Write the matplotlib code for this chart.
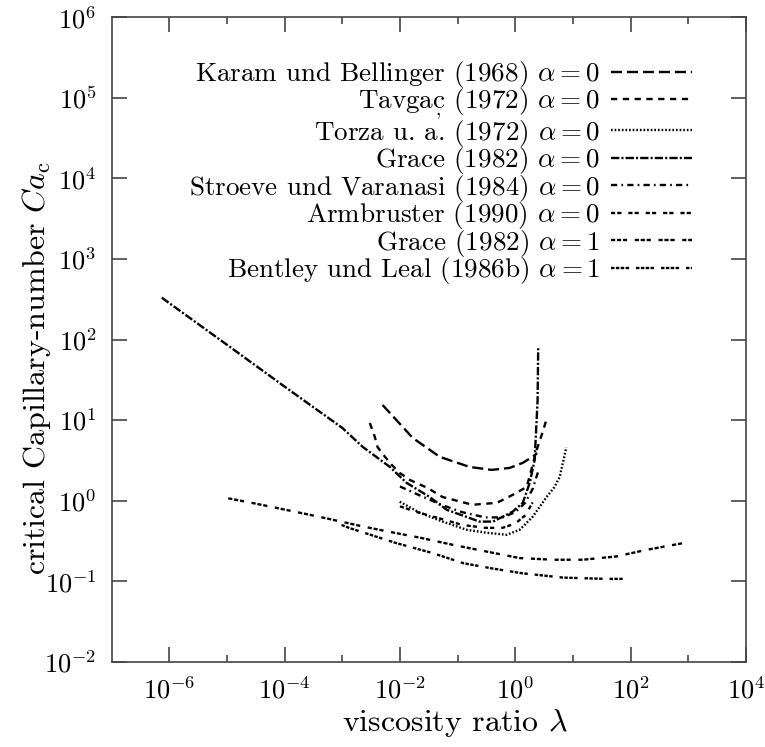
import math
import matplotlib
matplotlib.use("Agg")
import matplotlib.pyplot as plt
from matplotlib.ticker import FixedLocator, FuncFormatter, NullFormatter

plt.rcParams['font.family'] = ['cmr10', 'DejaVu Serif']
plt.rcParams['mathtext.fontset'] = 'cm'
plt.rcParams['axes.unicode_minus'] = False
plt.rcParams['lines.scale_dashes'] = False

# --- data (lambda, Ca_c) ---
karam_lam = [5.0e-3, 0.0167, 0.049, 0.162, 0.39, 0.8, 1.34, 2.0, 2.4]
karam_ca = [15.4, 6.0, 3.5, 2.62, 2.41, 2.55, 2.94, 3.5, 3.9]

tavgac_lam = [3.0e-3, 3.66e-3, 4.1e-3, 5.5e-3, 7.2e-3, 9.9e-3, 0.0148, 0.030, 0.055,
              0.18, 0.48, 0.90, 1.58, 2.35, 2.95, 3.6]
tavgac_ca = [9.2, 6.2, 4.6, 3.5, 2.78, 2.21, 1.81, 1.44, 1.11,
             0.89, 0.94, 1.18, 1.48, 4.27, 6.9, 11.0]

torza_lam = [9.9e-3, 0.022, 0.055, 0.144, 0.32, 0.71, 1.19, 2.0, 3.5, 4.8, 5.9, 7.7]
torza_ca = [0.97, 0.71, 0.55, 0.435, 0.40, 0.377, 0.435, 0.63, 1.11, 1.48, 1.97, 4.6]

grace0_lam = [7.4e-7, 1e-5, 1e-4, 1e-3, 2.26e-3, 6.65e-3, 0.0131, 0.0328, 0.065,
              0.24, 0.41, 0.90, 1.35, 1.78, 2.17, 2.44, 2.5]
grace0_ca = [330, 86, 26, 8.0, 4.65, 2.63, 1.66, 1.11, 0.77,
             0.55, 0.55, 0.73, 0.94, 1.66, 3.2, 17.8, 79]

stroeve_lam = [0.01, 0.02, 0.05, 0.12, 0.3, 0.6, 1.0, 1.5, 2.0, 2.5]
stroeve_ca = [1.5, 1.2, 0.9, 0.72, 0.62, 0.62, 0.72, 0.95, 1.4, 2.3]

armb_lam = [0.01, 0.02, 0.05, 0.12, 0.3, 0.6, 1.0, 1.5, 2.0]
armb_ca = [0.85, 0.72, 0.6, 0.5, 0.46, 0.46, 0.52, 0.66, 0.95]

grace1_lam = [1.05e-5, 3.5e-5, 1.3e-4, 4.6e-4, 2.3e-3, 6.2e-3, 0.022, 0.083, 0.315,
              1.19, 4.5, 14.9, 56, 187, 805]
grace1_ca = [1.07, 0.905, 0.746, 0.617, 0.478, 0.414, 0.348, 0.283, 0.234,
             0.194, 0.185, 0.185, 0.203, 0.245, 0.297]

bentley_lam = [9.7e-4, 1.35e-3, 8.7e-3, 0.0375, 0.124, 0.36, 1.28, 6.7, 38, 74]
bentley_ca = [0.50, 0.456, 0.297, 0.223, 0.168, 0.146, 0.126, 0.111, 0.107, 0.107]

series = [
    (karam_lam, karam_ca, r"Karam und Bellinger (1968) $\alpha = 0$", (8, 3.5)),
    (tavgac_lam, tavgac_ca, r"Tavga$\underset{,}{\mathrm{c}}$ (1972) $\alpha = 0$", (4.5, 4)),
    (torza_lam, torza_ca, r"Torza u. a. (1972) $\alpha = 0$", (1.2, 1.4)),
    (grace0_lam, grace0_ca, r"Grace (1982) $\alpha = 0$", (6, 1.5, 1.5, 1.5)),
    (stroeve_lam, stroeve_ca, r"Stroeve und Varanasi (1984) $\alpha = 0$", (4.5, 3, 1.2, 3)),
    (armb_lam, armb_ca, r"Armbruster (1990) $\alpha = 0$", (3, 1.5, 3, 5)),
    (grace1_lam, grace1_ca, r"Grace (1982) $\alpha = 1$", (3, 1.3, 3, 1.3, 3, 5.5)),
    (bentley_lam, bentley_ca, r"Bentley und Leal (1986b) $\alpha = 1$", (2.5, 1, 2.5, 1, 2.5, 1, 2.5, 5)),
]

fig = plt.figure(figsize=(7.65, 7.47), dpi=100)
ax = fig.add_axes([0.146, 0.114, 0.829, 0.863])

for lam, ca, lab, dash in series:
    ax.plot(lam, ca, color='black', lw=1.7, dashes=dash, label=lab)

ax.set_xscale('log')
ax.set_yscale('log')
ax.set_xlim(1e-7, 1e4)
ax.set_ylim(1e-2, 1e6)

ax.xaxis.set_major_locator(FixedLocator([1e-6, 1e-4, 1e-2, 1e0, 1e2, 1e4]))
ax.xaxis.set_minor_locator(FixedLocator([1e-5, 1e-3, 1e-1, 1e1, 1e3]))
ax.xaxis.set_minor_formatter(NullFormatter())
ax.yaxis.set_major_locator(FixedLocator([10.0 ** k for k in range(-2, 7)]))
ax.yaxis.set_minor_locator(FixedLocator([]))

fmt = FuncFormatter(lambda v, p: r"$10^{%d}$" % round(math.log10(v)))
ax.xaxis.set_major_formatter(fmt)
ax.yaxis.set_major_formatter(fmt)

ax.tick_params(which='both', direction='in', top=True, right=True, color='#444444')
ax.tick_params(which='major', length=11, width=1.2, labelsize=19, pad=11)
ax.tick_params(which='minor', length=5, width=1.2)
for s in ax.spines.values():
    s.set_linewidth(1.2)
    s.set_color('#444444')

ax.set_xlabel(r"viscosity ratio $\lambda$", fontsize=23)
ax.set_ylabel(r"critical Capillary-number $Ca_\mathrm{c}$", fontsize=23)
ax.xaxis.set_label_coords(0.541, -0.07)
ax.yaxis.set_label_coords(-0.092, 0.455)

ax.legend(loc='upper right', bbox_to_anchor=(0.915, 0.935), frameon=False,
          markerfirst=False, fontsize=19.5, handlelength=3.0, handletextpad=0.4,
          labelspacing=-0.13, borderpad=0, borderaxespad=0)

fig.savefig("out.png", dpi=100)
